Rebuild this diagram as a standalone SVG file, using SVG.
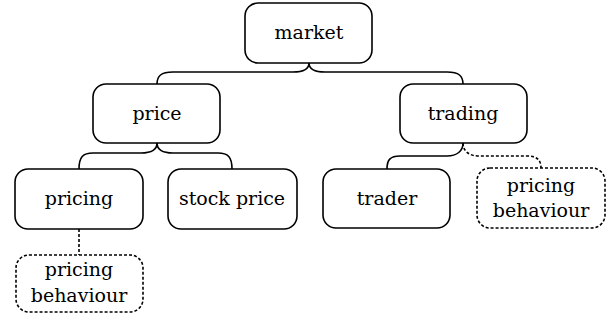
<svg xmlns="http://www.w3.org/2000/svg" width="611" height="320" viewBox="0 0 611 320">
<style>
.box{fill:#fff;stroke:#000;stroke-width:1.6}
.dot{fill:#fff;stroke:#000;stroke-width:1.6;stroke-dasharray:3 2}
.edge{fill:none;stroke:#000;stroke-width:1.6}
.dedge{fill:none;stroke:#000;stroke-width:1.6;stroke-dasharray:3 2}
text{font-size:19px;text-anchor:middle;fill:#000}
</style>
<rect width="611" height="320" fill="#fff"/>
<g id="connectors">
<path class="edge" d="M309,63 C309,70 303,72 293,72 L173,72 C161,72 157,76 157,84"/>
<path class="edge" d="M309,63 C309,70 315,72 325,72 L447,72 C459,72 463,76 463,84"/>
<path class="edge" d="M157,143 C157,150 151,153 141,153 L93,153 C83,153 79,157 79,169"/>
<path class="edge" d="M157,143 C157,150 163,153 173,153 L218,153 C228,153 232,157 232,169"/>
<path class="edge" d="M463,143 C463,151 457,156 447,156 L400,156 C390,156 387,160 387,169"/>
<path class="dedge" d="M463,143 C463,151 469,156 479,156 L527,156 C537,156 541,160 541,168"/>
<path class="dedge" d="M79,229 L79,255"/>
</g>
<g font-family="'DejaVu Serif', serif">
<g id="market"><rect class="box" x="245" y="3" width="127" height="60" rx="13"/><text x="309" y="39">market</text></g>
<g id="price"><rect class="box" x="93" y="84" width="127" height="59" rx="13"/><text x="157" y="120">price</text></g>
<g id="trading"><rect class="box" x="400" y="84" width="127" height="59" rx="13"/><text x="463" y="120">trading</text></g>
<g id="pricing"><rect class="box" x="15" y="169" width="128" height="60" rx="13"/><text x="79" y="205">pricing</text></g>
<g id="stock_price"><rect class="box" x="168" y="169" width="129" height="60" rx="13"/><text x="232" y="205">stock price</text></g>
<g id="trader"><rect class="box" x="323" y="169" width="127" height="59" rx="13"/><text x="387" y="205">trader</text></g>
<g id="pricing_behaviour_right"><rect class="dot" x="477" y="168" width="128" height="60" rx="13"/><text x="541" y="192">pricing</text><text x="541" y="217">behaviour</text></g>
<g id="pricing_behaviour_left"><rect class="dot" x="16" y="255" width="127" height="57" rx="13"/><text x="79" y="276">pricing</text><text x="79" y="302">behaviour</text></g>
</g>
</svg>
